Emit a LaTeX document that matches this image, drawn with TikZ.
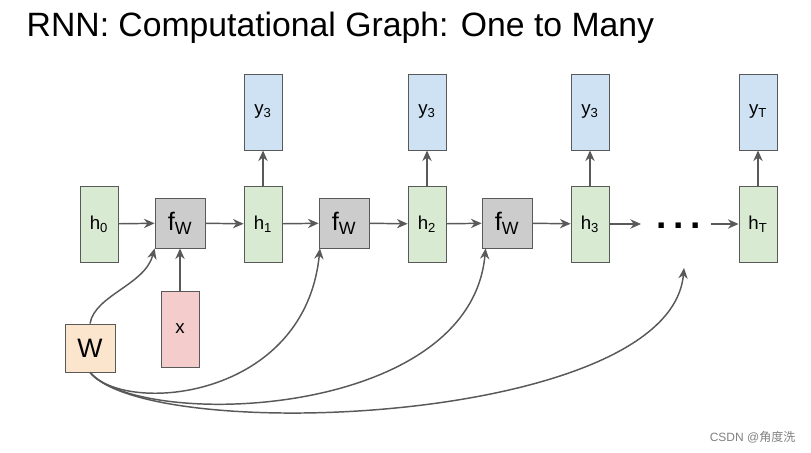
\documentclass[tikz,border=0pt]{standalone}
\usepackage{fontspec}
\setmainfont{Liberation Sans}
\newfontfamily\cjk{Noto Sans CJK SC}
\usetikzlibrary{arrows.meta}
\definecolor{hg}{HTML}{D9EAD3}
\definecolor{yb}{HTML}{CFE2F3}
\definecolor{fg}{HTML}{CCCCCC}
\definecolor{xp}{HTML}{F4CCCC}
\definecolor{wo}{HTML}{FCE5CD}
\definecolor{ln}{HTML}{595959}
\newcommand{\sbs}[1]{\textsubscript{#1}}
\begin{document}
\begin{tikzpicture}[x=0.75pt,y=-0.75pt,
 box/.style={draw=ln,line width=0.6pt,minimum width=28.5pt,minimum height=57pt,inner sep=0pt,font=\fontsize{14}{16}\selectfont},
 hb/.style={box,fill=hg},
 yb/.style={box,fill=yb},
 fb/.style={draw=ln,line width=0.6pt,fill=fg,minimum width=37.5pt,minimum height=37.5pt,inner sep=0pt,font=\fontsize{19}{22}\selectfont},
 ar/.style={draw=ln,line width=1.1pt,-{Stealth[length=8pt,width=7pt]}}]
\useasboundingbox (0,0) rectangle (811,453);
\node[anchor=west,font=\fontsize{25.3}{30}\selectfont] (title) at (22,28) {RNN: Computational Graph: One to Many};
\node[hb] (h0) at (99,224) {h\sbs{0}};
\node[fb] (f1) at (180,223) {f\sbs{W}};
\node[hb] (h1) at (263,224) {h\sbs{1}};
\node[yb] (y1) at (263,112) {y\sbs{3}};
\node[fb] (f2) at (344,223) {f\sbs{W}};
\node[hb] (h2) at (427,224) {h\sbs{2}};
\node[yb] (y2) at (427,112) {y\sbs{3}};
\node[fb] (f3) at (507,223) {f\sbs{W}};
\node[hb] (h3) at (590,224) {h\sbs{3}};
\node[yb] (y3) at (590,112) {y\sbs{3}};
\node[font=\bfseries\fontsize{28}{30}\selectfont] (dots) at (679,226) {.\hspace{5pt}.\hspace{5pt}.};
\node[hb] (hT) at (758,224) {h\sbs{T}};
\node[yb] (yT) at (758,112) {y\sbs{T}};
\node[box,fill=xp] (x) at (180,329) {x};
\node[draw=ln,line width=0.6pt,fill=wo,minimum width=37.5pt,minimum height=36pt,inner sep=0pt,font=\fontsize{20}{22}\selectfont] (W) at (90,348) {W};
\coordinate (d1) at (641,224);
\coordinate (d2) at (711,224);
\coordinate (dt) at (684,268);
\draw[ar] (h0) -- (f1);
\draw[ar] (f1) -- (h1);
\draw[ar] (h1) -- (f2);
\draw[ar] (f2) -- (h2);
\draw[ar] (h2) -- (f3);
\draw[ar] (f3) -- (h3);
\draw[ar] (h3.east) -- (d1);
\draw[ar] (d2) -- (hT.west);
\draw[ar] (h1) -- (y1);
\draw[ar] (h2) -- (y2);
\draw[ar] (h3) -- (y3);
\draw[ar] (hT) -- (yT);
\draw[ar] (x) -- (f1);
\draw[ar] (W.north) .. controls (95,295) and (145,285) .. (f1.south west);
\draw[ar] (W.south) .. controls (125,415) and (305,400) .. ([xshift=1pt]f2.south west);
\draw[ar] (W.south) .. controls (140,430) and (470,420) .. ([xshift=3pt]f3.south west);
\draw[ar] (W.south) .. controls (150,445) and (670,425) .. (dt);
\node[anchor=east,text=gray,font=\fontsize{9}{10}\selectfont] (wm) at (800,437) {CSDN @{\cjk 角度洗}};
\end{tikzpicture}
\end{document}
